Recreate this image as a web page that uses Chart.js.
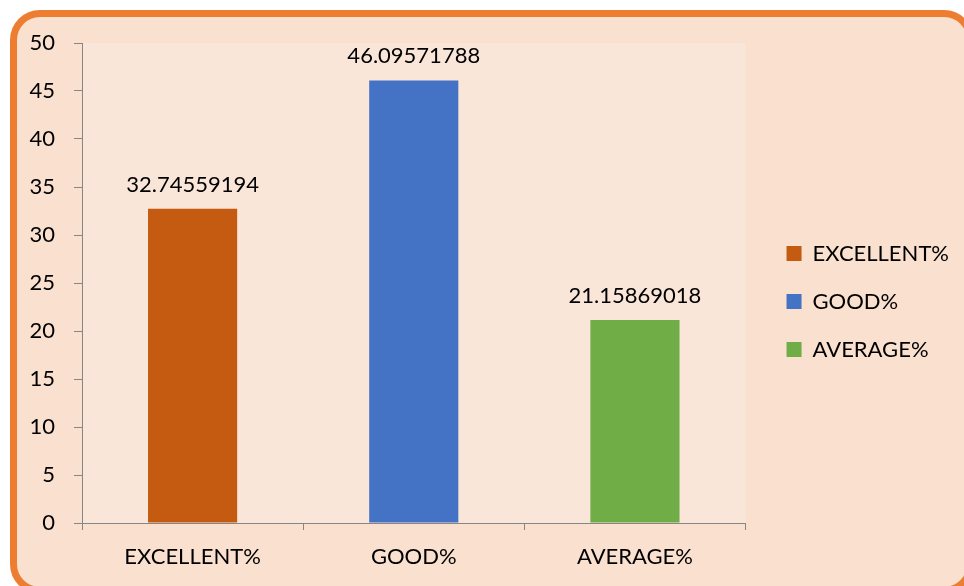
<!DOCTYPE html>
<html>
<head>
<meta charset="utf-8">
<script src="https://cdn.jsdelivr.net/npm/chart.js@4/dist/chart.umd.min.js"></script>
<style>
  html, body { margin: 0; padding: 0; background: #ffffff; overflow: hidden; }
  #card {
    position: absolute; left: 10px; top: 10px; width: 950px; height: 570px;
    border: 7px solid #ED7D31; border-radius: 30px; background: #F9E0CF;
  }
  #wrap { position: absolute; left: 0; top: 0; width: 964px; height: 586px; }
</style>
</head>
<body>
<div id="card"></div>
<div id="wrap"><canvas id="chart"></canvas></div>
<script>
const categories = ["EXCELLENT%", "GOOD%", "AVERAGE%"];
const values = [32.74559194, 46.09571788, 21.15869018];
const barColors = ["#C55A11", "#4472C4", "#70AD47"];
const yTicks = [0, 5, 10, 15, 20, 25, 30, 35, 40, 45, 50];

const FONT = "Lato, 'Open Sans', sans-serif";

const plotFill = {
  id: "plotFill",
  beforeDraw(chart) {
    const { ctx, chartArea: a } = chart;
    ctx.save();
    ctx.fillStyle = "#FAE5D9";
    ctx.fillRect(a.left, a.top, a.right - a.left, a.bottom - a.top);
    ctx.restore();
  },
};

// nudge the legend box a bit right and up, like the original sheet
const legendNudge = {
  id: "legendNudge",
  afterLayout(chart) {
    const lg = chart.legend;
    lg.left += 15;
    lg.right += 15;
    lg.top -= 13;
    lg.bottom -= 13;
  },
};

const valueLabels = {
  id: "valueLabels",
  afterDatasetsDraw(chart) {
    const ctx = chart.ctx;
    ctx.save();
    ctx.font = "22px " + FONT;
    ctx.fillStyle = "#000";
    ctx.textAlign = "center";
    ctx.textBaseline = "alphabetic";
    chart.getDatasetMeta(0).data.forEach((bar, i) => {
      ctx.fillText(String(values[i]), bar.x, bar.y - 17);
    });
    ctx.restore();
  },
};

new Chart(document.getElementById("chart"), {
  type: "bar",
  data: {
    labels: categories,
    datasets: [
      {
        data: values,
        backgroundColor: barColors,
        categoryPercentage: 1,
        barPercentage: 0.403,
      },
    ],
  },
  options: {
    responsive: true,
    maintainAspectRatio: false,
    animation: false,
    layout: { padding: { top: 43, right: 20, bottom: 0, left: 0 } },
    plugins: {
      tooltip: { enabled: false },
      legend: {
        position: "right",
        labels: {
          boxWidth: 15,
          boxHeight: 15,
          padding: 26,
          color: "#000",
          font: { family: FONT, size: 22 },
          generateLabels: () =>
            categories.map((c, i) => ({
              text: c,
              fillStyle: barColors[i],
              strokeStyle: barColors[i],
              lineWidth: 0,
              index: i,
            })),
        },
      },
    },
    scales: {
      x: {
        afterFit: (s) => { s.height = 63; },
        grid: {
          offset: true,
          drawOnChartArea: false,
          tickLength: 7,
          color: "#868686",
        },
        border: { color: "#868686", width: 1 },
        ticks: {
          color: "#000",
          padding: 14,
          font: { family: FONT, size: 22 },
        },
      },
      y: {
        min: 0,
        max: 50,
        afterFit: (s) => { s.width = 82; },
        afterBuildTicks: (s) => { s.ticks = yTicks.map((v) => ({ value: v })); },
        grid: {
          drawOnChartArea: false,
          tickLength: 8,
          color: "#868686",
        },
        border: { color: "#868686", width: 1 },
        ticks: {
          color: "#000",
          padding: 19,
          font: { family: FONT, size: 22 },
        },
      },
    },
  },
  plugins: [plotFill, legendNudge, valueLabels],
});
</script>
</body>
</html>
